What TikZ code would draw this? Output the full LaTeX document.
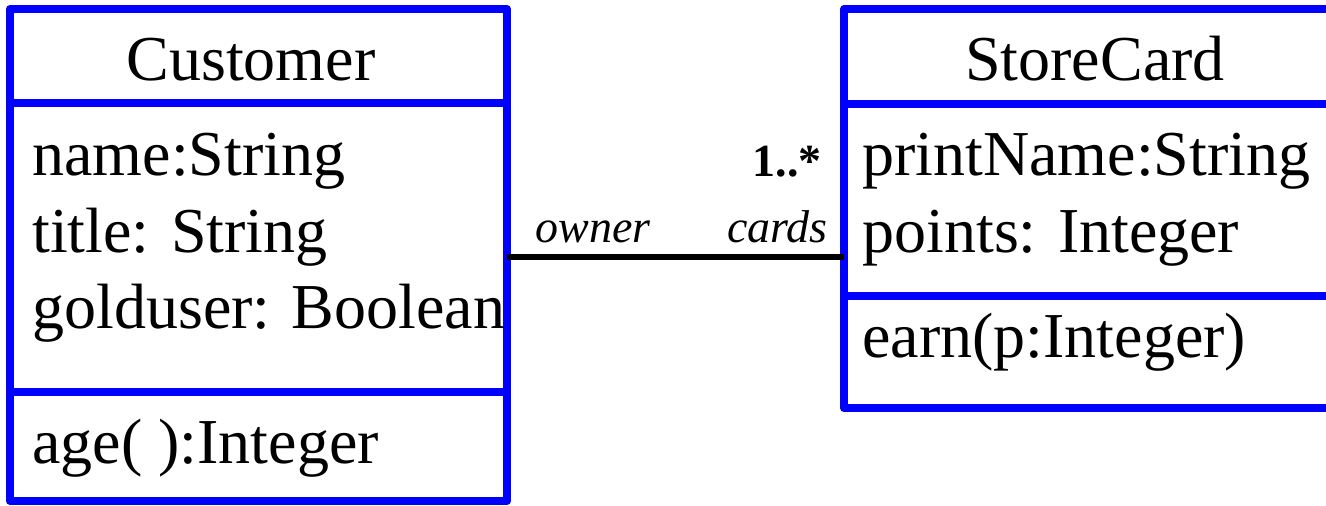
\documentclass[tikz,border=0pt]{standalone}
\usepackage{fontspec}
\setmainfont{Liberation Serif}
\begin{document}
\begin{tikzpicture}[x=0.5pt,y=-0.5pt,line join=round,
	classbox/.style={draw=blue,line width=4pt,inner sep=0pt,outer sep=0pt,anchor=north west},
	classline/.style={blue,line width=4pt},
	assoc/.style={line width=2.75pt},
	member/.style={anchor=base west,inner sep=0pt,font=\fontsize{32}{38}\selectfont},
	classname/.style={anchor=base,inner sep=0pt,font=\fontsize{32}{38}\selectfont},
	role/.style={inner sep=0pt,font=\fontsize{23}{27}\selectfont\itshape},
	mult/.style={inner sep=0pt,anchor=base east,font=\fontsize{23}{27}\selectfont\bfseries}]
		\useasboundingbox (0,0) rectangle (1326,505);
		\clip (0,0) rectangle (1326,505);
		% the two classes
		\node[classbox,minimum width=248.5pt,minimum height=246pt] (customer) at (10,9) {};
		\node[classbox,minimum width=251pt,minimum height=199.5pt] (storecard) at (844,9) {};
		\draw[classline] (customer.west |- 0,103) -- (customer.east |- 0,103);
		\draw[classline] (customer.west |- 0,392) -- (customer.east |- 0,392);
		\draw[classline] (storecard.west |- 0,104) -- (storecard.east |- 0,104);
		\draw[classline] (storecard.west |- 0,296) -- (storecard.east |- 0,296);
		% Customer
		\node[classname] (custname) at (251,80) {Customer};
		\node[member] (custattra) at (32,175) {name:String};
		\node[member] (custattrb) at (32,252) {title: String};
		\node[member] (custattrc) at (32,328) {golduser: Boolean};
		\node[member] (custop) at (32,463) {age( ):Integer};
		% StoreCard
		\node[classname] (cardname) at (1095,80) {StoreCard};
		\node[member] (cardattra) at (862,175) {printName:String};
		\node[member] (cardattrb) at (862,252) {points: Integer};
		\node[member] (cardop) at (862,357) {earn(p:Integer)};
		% association
		\draw[assoc] (customer.east) ++(0,2) -- (storecard.west |- 0,257);
		\node[role,anchor=base west] (owner) at (535,242) {owner};
		\node[role,anchor=base east] (cards) at (828,242) {cards};
		\node[mult] (multcards) at (822,176) {1..*};
	\end{tikzpicture}
\end{document}
